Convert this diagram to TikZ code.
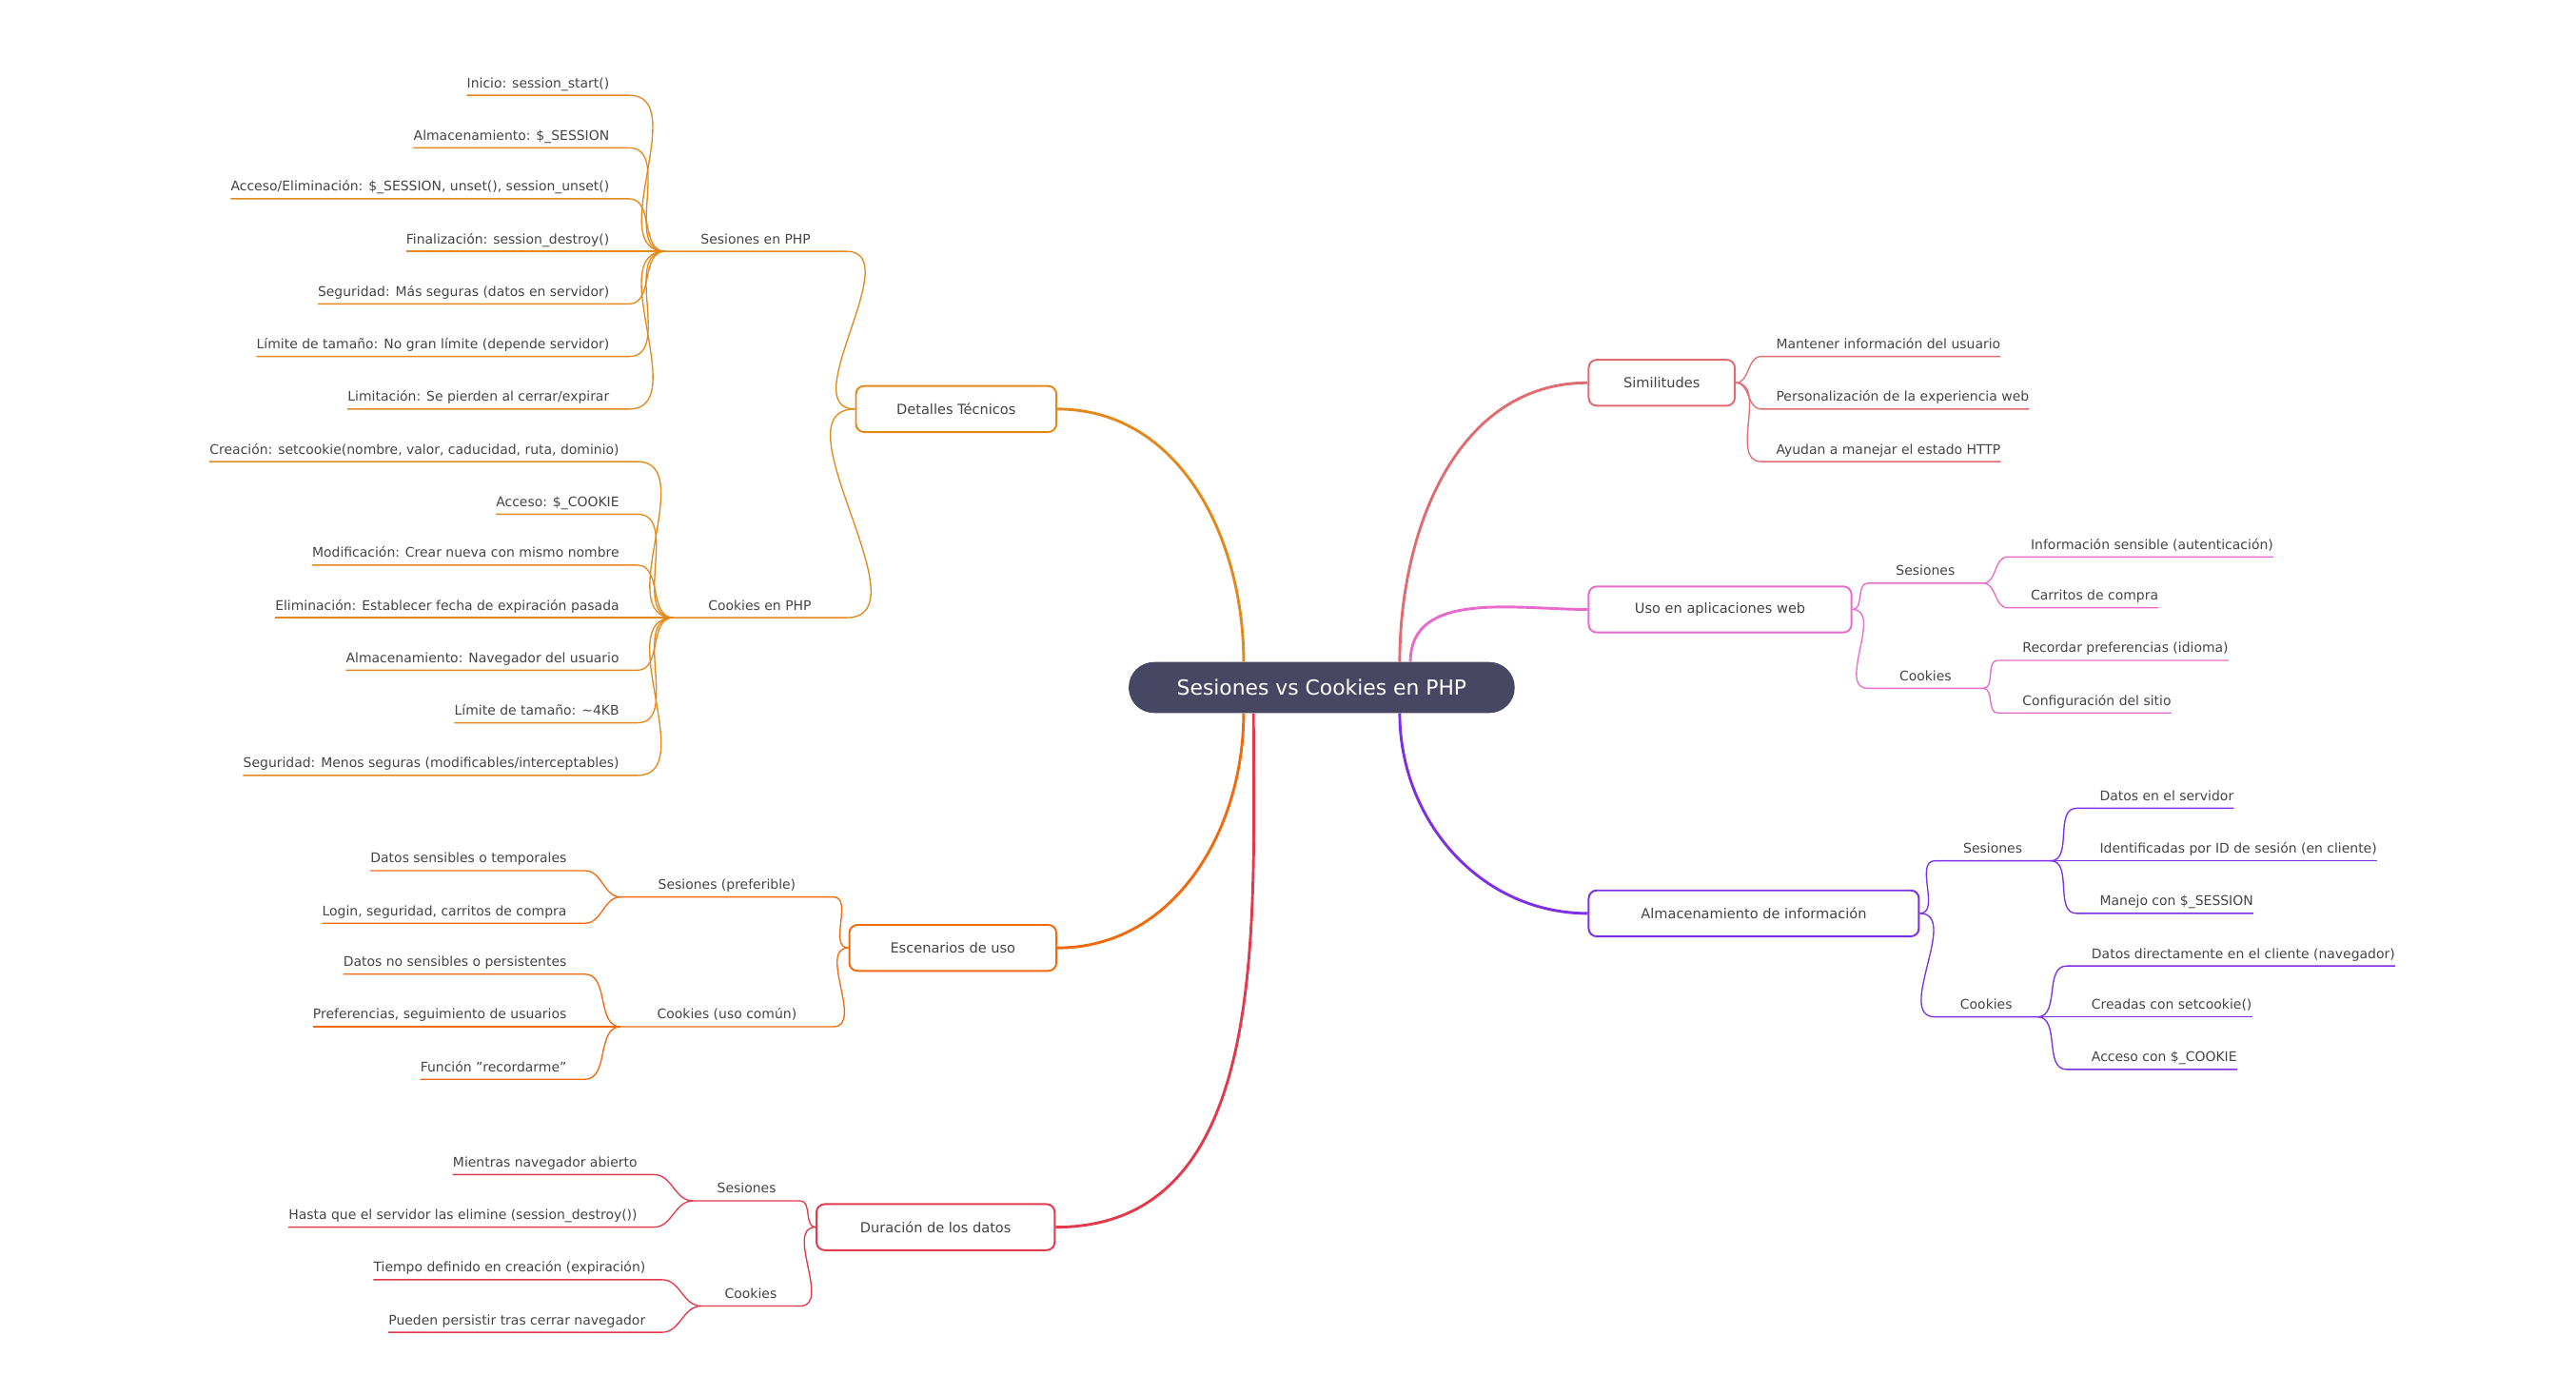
\documentclass[tikz,border=0pt]{standalone}
\usepackage{fontspec}
\setmainfont{DejaVu Sans}
\definecolor{txtc}{HTML}{444444}
\definecolor{cA}{HTML}{E3891B}
\definecolor{cB}{HTML}{F26A10}
\definecolor{cC}{HTML}{E23A4C}
\definecolor{cD}{HTML}{E06C72}
\definecolor{cE}{HTML}{E76BCB}
\definecolor{cF}{HTML}{7D2FE3}
\definecolor{rootc}{HTML}{474763}
\begin{document}
\begin{tikzpicture}[x=0.05cm,y=-0.05cm,
 txt/.style={text=txtc,font=\fontsize{11.5}{13}\selectfont,inner xsep=0pt,inner ysep=4pt,text height=1.6ex,text depth=.45ex},
 lleaf/.style={txt,anchor=south east},
 rleaf/.style={txt,anchor=south west},
 hub/.style={txt,anchor=south,align=center},
 box/.style={draw=#1,rounded corners=7pt,line width=1.6pt,fill=white,text=txtc,font=\fontsize{12}{14}\selectfont,minimum height=1.4cm,inner xsep=0pt},
 thin/.style={draw=#1,line width=1.1pt},
 main/.style={draw=#1,line width=2.4pt}]
\useasboundingbox (0,0) rectangle (1568,837);

% root
\node[fill=rootc,text=white,rounded corners=0.77cm,minimum width=11.75cm,minimum height=1.55cm,font=\fontsize{18}{20}\selectfont] (root) at (804.5,418.5) {Sesiones vs Cookies en PHP};

% boxes
\node[box=cA,minimum width=6.1cm] (B1) at (582,249) {Detalles Técnicos};
\node[box=cB,minimum width=6.3cm] (B2) at (580,577) {Escenarios de uso};
\node[box=cC,minimum width=7.25cm] (B3) at (569.5,747) {Duración de los datos};
\node[box=cD,minimum width=4.45cm] (B4) at (1011.5,233) {Similitudes};
\node[box=cE,minimum width=8cm] (B5) at (1047,371) {Uso en aplicaciones web};
\node[box=cF,minimum width=10.05cm] (B6) at (1067.5,556) {Almacenamiento de información};

% main branches
\draw[main=cA] ([xshift=-2.375cm]root.north) to[out=90,in=0] (B1.east);
\draw[main=cB] ([xshift=-2.375cm]root.south) to[out=-90,in=0] (B2.east);
\draw[main=cC] ([xshift=-2.075cm]root.south) to[out=-90,in=0] (B3.east);
\draw[main=cD] ([xshift=2.375cm]root.north) to[out=90,in=180] (B4.west);
\draw[main=cE] ([xshift=2.7cm]root.north) to[out=90,in=180] (B5.west);
\draw[main=cF] ([xshift=2.375cm]root.south) to[out=-90,in=180] (B6.west);

% hubs
\node[hub,minimum width=5.5cm] (h1) at (460,153) {Sesiones en PHP};
\node[hub,minimum width=5.25cm] (h2) at (462.5,376) {Cookies en PHP};
\node[hub,minimum width=6.45cm] (h3) at (442.5,546) {Sesiones (preferible)};
\node[hub,minimum width=6.45cm] (h4) at (442.5,625) {Cookies (uso común)};
\node[hub,minimum width=3.25cm] (h5) at (454.5,731) {Sesiones};
\node[hub,minimum width=3cm] (h6) at (457,795) {Cookies};
\node[hub,minimum width=3.5cm] (h7) at (1172,355) {Sesiones};
\node[hub,minimum width=3.5cm] (h8) at (1172,419) {Cookies};
\node[hub,minimum width=3.5cm] (h9) at (1213,524) {Sesiones};
\node[hub,minimum width=3.1cm] (h10) at (1209,619) {Cookies};

\draw[thin=cA] (h1.south west) -- (h1.south east) to[out=0,in=180] (B1.west);
\draw[thin=cA] (h2.south west) -- (h2.south east) to[out=0,in=180] (B1.west);
\draw[thin=cB] (h3.south west) -- (h3.south east) to[out=0,in=180] (B2.west);
\draw[thin=cB] (h4.south west) -- (h4.south east) to[out=0,in=180] (B2.west);
\draw[thin=cC] (h5.south west) -- (h5.south east) to[out=0,in=180] (B3.west);
\draw[thin=cC] (h6.south west) -- (h6.south east) to[out=0,in=180] (B3.west);
\draw[thin=cE] (h7.south east) -- (h7.south west) to[out=180,in=0] (B5.east);
\draw[thin=cE] (h8.south east) -- (h8.south west) to[out=180,in=0] (B5.east);
\draw[thin=cF] (h9.south east) -- (h9.south west) to[out=180,in=0] (B6.east);
\draw[thin=cF] (h10.south east) -- (h10.south west) to[out=180,in=0] (B6.east);

% left leaves
\foreach \y/\t [count=\i] in {58/{Inicio: session\_start()},90/{Almacenamiento: \$\_SESSION},121/{Acceso/Eliminación: \$\_SESSION, unset(), session\_unset()},153/{Finalización: session\_destroy()},185/{Seguridad: Más seguras (datos en servidor)},217/{Límite de tamaño: No gran límite (depende servidor)},249/{Limitación: Se pierden al cerrar/expirar}}
 {\node[lleaf] (a\i) at (371,\y) {\t};
  \draw[thin=cA] (a\i.south west) -- (a\i.south east) -- ++(12,0) to[out=0,in=180] (h1.south west);}
\foreach \y/\t [count=\i] in {281/{Creación: setcookie(nombre, valor, caducidad, ruta, dominio)},313/{Acceso: \$\_COOKIE},344/{Modificación: Crear nueva con mismo nombre},376/{Eliminación: Establecer fecha de expiración pasada},408/{Almacenamiento: Navegador del usuario},440/{Límite de tamaño: \textasciitilde4KB},472/{Seguridad: Menos seguras (modificables/interceptables)}}
 {\node[lleaf] (b\i) at (377,\y) {\t};
  \draw[thin=cA] (b\i.south west) -- (b\i.south east) -- ++(11,0) to[out=0,in=180] (h2.south west);}
\foreach \y/\t [count=\i] in {530/{Datos sensibles o temporales},562/{Login, seguridad, carritos de compra}}
 {\node[lleaf] (c\i) at (345,\y) {\t};
  \draw[thin=cB] (c\i.south west) -- (c\i.south east) -- ++(11,0) to[out=0,in=180] (h3.south west);}
\foreach \y/\t [count=\i] in {593/{Datos no sensibles o persistentes},625/{Preferencias, seguimiento de usuarios},657/{Función "recordarme"}}
 {\node[lleaf] (d\i) at (345,\y) {\t};
  \draw[thin=cB] (d\i.south west) -- (d\i.south east) -- ++(11,0) to[out=0,in=180] (h4.south west);}
\foreach \y/\t [count=\i] in {715/{Mientras navegador abierto},747/{Hasta que el servidor las elimine (session\_destroy())}}
 {\node[lleaf] (e\i) at (388,\y) {\t};
  \draw[thin=cC] (e\i.south west) -- (e\i.south east) -- ++(10,0) to[out=0,in=180] (h5.south west);}
\foreach \y/\t [count=\i] in {779/{Tiempo definido en creación (expiración)},811/{Pueden persistir tras cerrar navegador}}
 {\node[lleaf] (f\i) at (393,\y) {\t};
  \draw[thin=cC] (f\i.south west) -- (f\i.south east) -- ++(10,0) to[out=0,in=180] (h6.south west);}

% right leaves
\foreach \y/\t [count=\i] in {217/{Mantener información del usuario},249/{Personalización de la experiencia web},281/{Ayudan a manejar el estado HTTP}}
 {\node[rleaf] (g\i) at (1081,\y) {\t};
  \draw[thin=cD] (g\i.south east) -- (g\i.south west) -- ++(-9,0) to[out=180,in=0] (B4.east);}
\foreach \y/\t [count=\i] in {339/{Información sensible (autenticación)},370/{Carritos de compra}}
 {\node[rleaf] (k\i) at (1236,\y) {\t};
  \draw[thin=cE] (k\i.south east) -- (k\i.south west) -- ++(-14,0) to[out=180,in=0] (h7.south east);}
\foreach \y/\t [count=\i] in {402/{Recordar preferencias (idioma)},434/{Configuración del sitio}}
 {\node[rleaf] (m\i) at (1231,\y) {\t};
  \draw[thin=cE] (m\i.south east) -- (m\i.south west) -- ++(-15,0) to[out=180,in=0] (h8.south east);}
\foreach \y/\t [count=\i] in {492/{Datos en el servidor},524/{Identificadas por ID de sesión (en cliente)},556/{Manejo con \$\_SESSION}}
 {\node[rleaf] (n\i) at (1278,\y) {\t};
  \draw[thin=cF] (n\i.south east) -- (n\i.south west) -- ++(-14,0) to[out=180,in=0] (h9.south east);}
\foreach \y/\t [count=\i] in {588/{Datos directamente en el cliente (navegador)},619/{Creadas con setcookie()},651/{Acceso con \$\_COOKIE}}
 {\node[rleaf] (p\i) at (1273,\y) {\t};
  \draw[thin=cF] (p\i.south east) -- (p\i.south west) -- ++(-15,0) to[out=180,in=0] (h10.south east);}
\end{tikzpicture}
\end{document}
